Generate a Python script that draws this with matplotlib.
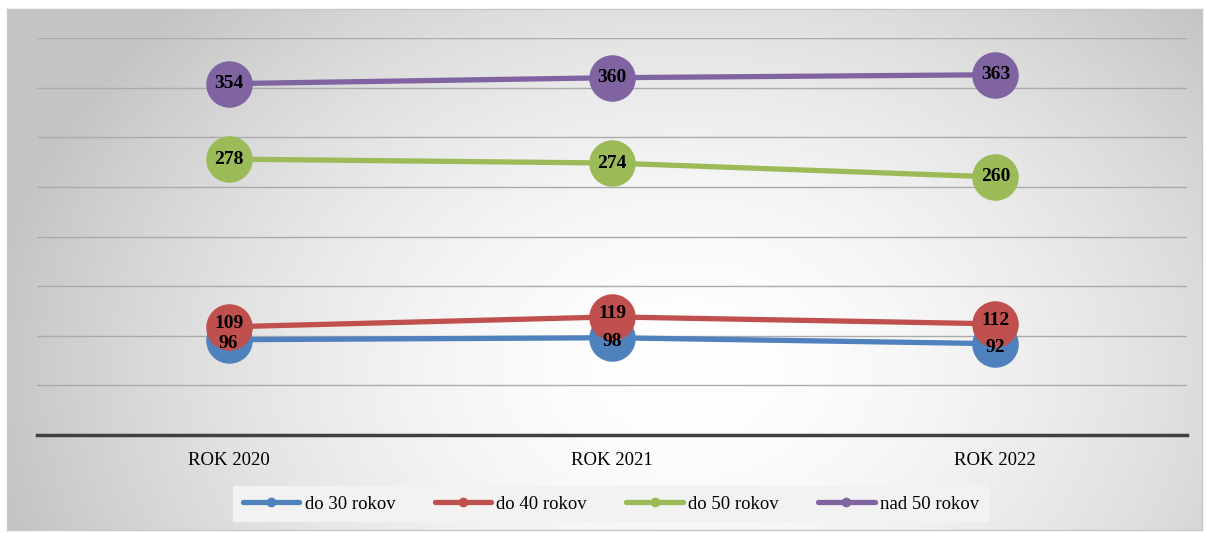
import numpy as np
import matplotlib.pyplot as plt

# data
roky = ['ROK 2020', 'ROK 2021', 'ROK 2022']
do_30 = [96, 98, 92]
do_40 = [109, 119, 112]
do_50 = [278, 274, 260]
nad_50 = [354, 360, 363]

serie = [
    ('do 30 rokov', do_30, '#4f81bd'),
    ('do 40 rokov', do_40, '#c0504d'),
    ('do 50 rokov', do_50, '#9bbb59'),
    ('nad 50 rokov', nad_50, '#8064a2'),
]

plt.rcParams['font.family'] = ['Liberation Serif', 'DejaVu Serif']

W, H = 1206, 533
fig = plt.figure(figsize=(W / 100, H / 100), dpi=100)

# pozadie s radialnym prechodom
bg = fig.add_axes([7 / W, 1 - 530 / H, 1195 / W, 521 / H], zorder=0)
yy, xx = np.mgrid[0:521, 0:1195]
d = np.sqrt((xx - 680) ** 2 + ((yy - 360) / 0.75) ** 2)
d = np.clip(d / 700, 0, 1)
val = 1 - 0.23 * d ** 1.7
bg.imshow(np.dstack([val, val, val]), aspect='auto', extent=[0, 1, 0, 1])
bg.set_xticks([])
bg.set_yticks([])
for s in bg.spines.values():
    s.set_color('#c8c8c8')
    s.set_linewidth(1)

ax = fig.add_axes([37 / W, 1 - 435 / H, 1150 / W, 397 / H], zorder=1)
ax.patch.set_alpha(0)
x = np.arange(len(roky))

for nazov, hodnoty, farba in serie:
    ax.plot(x, hodnoty, color=farba, lw=3.8, marker='o', ms=33.5,
            markeredgewidth=0, label=nazov, solid_capstyle='round')

# popisky, blizke hodnoty (do 30 / do 40) mierne od seba
posun = {'do 30 rokov': -2.5, 'do 40 rokov': 2.5}
for nazov, hodnoty, farba in serie:
    for xi, v in zip(x, hodnoty):
        ax.annotate(str(v), (xi, v), xytext=(0, posun.get(nazov, 0)),
                    textcoords='offset points', ha='center', va='center',
                    fontsize=14, fontweight='bold', color='black', zorder=5)

ax.set_xlim(-0.5, 2.5)
ax.set_ylim(0, 400)
ax.set_yticks(np.arange(0, 401, 50))
ax.set_yticklabels([])
ax.tick_params(axis='y', length=0)
ax.tick_params(axis='x', length=0, pad=12, labelsize=13.5)
ax.set_xticks(x)
ax.set_xticklabels(roky)
ax.grid(axis='y', color='#ababab', lw=1)
ax.set_axisbelow(True)
for s in ['top', 'left', 'right']:
    ax.spines[s].set_visible(False)
ax.spines['bottom'].set_color('#404040')
ax.spines['bottom'].set_linewidth(2.5)

handles = [plt.Line2D([], [], color=f, lw=3.8, marker='o', ms=6,
                      solid_capstyle='round') for _, _, f in serie]
leg = fig.legend(handles, [s[0] for s in serie], loc='center',
                 bbox_to_anchor=(611 / W, 1 - 504 / H), ncol=4,
                 fontsize=13.5, frameon=True, fancybox=False,
                 handlelength=3.0, handletextpad=0.3, columnspacing=2.1,
                 borderpad=0.5)
leg.get_frame().set_facecolor('#f2f2f2')
leg.get_frame().set_edgecolor('none')
leg.get_frame().set_alpha(1)
leg.set_zorder(3)

fig.savefig('out.png', dpi=100)
